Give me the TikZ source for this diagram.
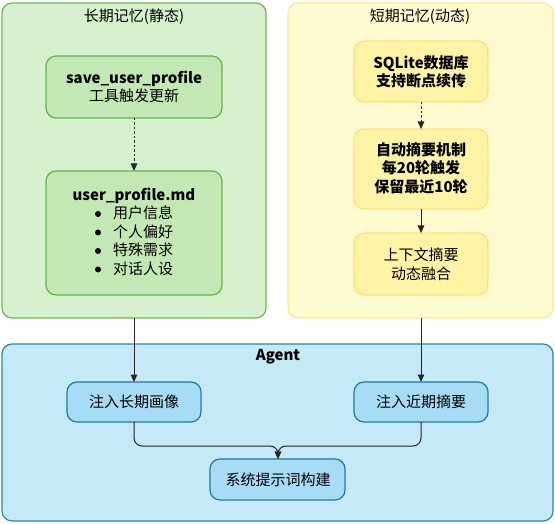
\documentclass[tikz,border=0pt]{standalone}
\usepackage{fontspec}
\setmainfont{Noto Sans CJK SC}
\usetikzlibrary{arrows.meta}
\definecolor{gcont}{HTML}{D7F1CE}
\definecolor{gcontb}{HTML}{6DB84F}
\definecolor{gbox}{HTML}{C4E8B4}
\definecolor{gboxb}{HTML}{62B545}
\definecolor{ycont}{HTML}{FFFBD1}
\definecolor{ycontb}{HTML}{FFE890}
\definecolor{ybox}{HTML}{FFF3A6}
\definecolor{yboxb}{HTML}{FFE07C}
\definecolor{bcont}{HTML}{C6E9F8}
\definecolor{bcontb}{HTML}{2A86AA}
\definecolor{bbox}{HTML}{A6DDF4}
\definecolor{bboxb}{HTML}{1D7BA3}
\tikzset{
  cont/.style={rounded corners=10pt, line width=1.2pt},
  inbox/.style={rounded corners=10pt, line width=1.2pt},
  lbl/.style={inner sep=0pt, font=\fontsize{15}{18.5}\selectfont, align=center},
  arr/.style={-{Triangle[length=7.5pt,width=6.5pt]}, line width=1pt, black!85},
  darr/.style={arr, dash pattern=on 2.5pt off 2pt},
  bul/.style={circle, fill=black, inner sep=0pt, minimum size=6pt},
}
\begin{document}
\begin{tikzpicture}[x=1pt,y=-1pt]
\useasboundingbox (0,0) rectangle (555,524);
% containers
\draw[cont, fill=gcont, draw=gcontb] (2,3) rectangle (266,318);
\draw[cont, fill=ycont, draw=ycontb] (288,3) rectangle (553,318);
\draw[cont, fill=bcont, draw=bcontb] (2,344) rectangle (553,521);
\node[lbl] (tl) at (134,17) {长期记忆(静态)};
\node[lbl] (tr) at (420,17) {短期记忆(动态)};
\node[lbl, font=\fontsize{15}{18}\selectfont\bfseries] (ta) at (278,357) {Agent};
% green boxes
\draw[inbox, fill=gbox, draw=gboxb] (46,56) rectangle (222,118);
\node[lbl] (g1t) at (134,87) {\textbf{save\_user\_profile}\\工具触发更新};
\coordinate (g1b) at (134,118);
\draw[inbox, fill=gbox, draw=gboxb] (46,171) rectangle (222,295);
\coordinate (g2top) at (134,171);
\node[lbl] (g2h) at (134,196) {\textbf{user\_profile.md}};
\node[bul] (d1) at (98,214) {};
\node[bul] (d2) at (98,232.5) {};
\node[bul] (d3) at (98,251) {};
\node[bul] (d4) at (98,269.5) {};
\node[lbl, anchor=west] (b1) at (113,213) {用户信息};
\node[lbl, anchor=west] (b2) at (113,231.5) {个人偏好};
\node[lbl, anchor=west] (b3) at (113,250) {特殊需求};
\node[lbl, anchor=west] (b4) at (113,268.5) {对话人设};
% yellow boxes
\draw[inbox, fill=ybox, draw=yboxb] (354,41) rectangle (488,102);
\node[lbl, font=\fontsize{15}{18.5}\selectfont\bfseries] (y1t) at (421,72) {SQLite数据库\\支持断点续传};
\coordinate (y1b) at (421,102);
\draw[inbox, fill=ybox, draw=yboxb] (354,129) rectangle (488,209);
\coordinate (y2top) at (421,129);
\node[lbl, font=\fontsize{15}{18.5}\selectfont\bfseries] (y2t) at (421,168) {自动摘要机制\\每20轮触发\\保留最近10轮};
\coordinate (y2b) at (421,209);
\draw[inbox, fill=ybox, draw=yboxb] (354,233) rectangle (488,295);
\coordinate (y3top) at (421,233);
\node[lbl] (y3t) at (421,264) {上下文摘要\\动态融合};
% blue boxes
\draw[inbox, fill=bbox, draw=bboxb] (67,382) rectangle (201,422);
\node[lbl] (a1) at (134,402) {注入长期画像};
\coordinate (a1top) at (134,382);
\coordinate (a1b) at (134,422);
\draw[inbox, fill=bbox, draw=bboxb] (354,382) rectangle (488,422);
\node[lbl] (a2) at (421,402) {注入近期摘要};
\coordinate (a2top) at (421,382);
\coordinate (a2b) at (421,422);
\draw[inbox, fill=bbox, draw=bboxb] (210,459) rectangle (345,500);
\node[lbl] (a3) at (278,479.5) {系统提示词构建};
\coordinate (a3top) at (278,459);
% connectors
\coordinate (gcb) at (134,318);
\coordinate (ycb) at (421,318);
\draw[darr] (g1b) -- (g2top);
\draw[darr] (y1b) -- (y2top);
\draw[arr] (y2b) -- (y3top);
\draw[arr] (gcb) -- (a1top);
\draw[arr] (ycb) -- (a2top);
\draw[arr, rounded corners=8pt] (a1b) -- (134,446) -- (278,446) -- (a3top);
\draw[arr, rounded corners=8pt] (a2b) -- (421,446) -- (278,446) -- (a3top);
\end{tikzpicture}
\end{document}
